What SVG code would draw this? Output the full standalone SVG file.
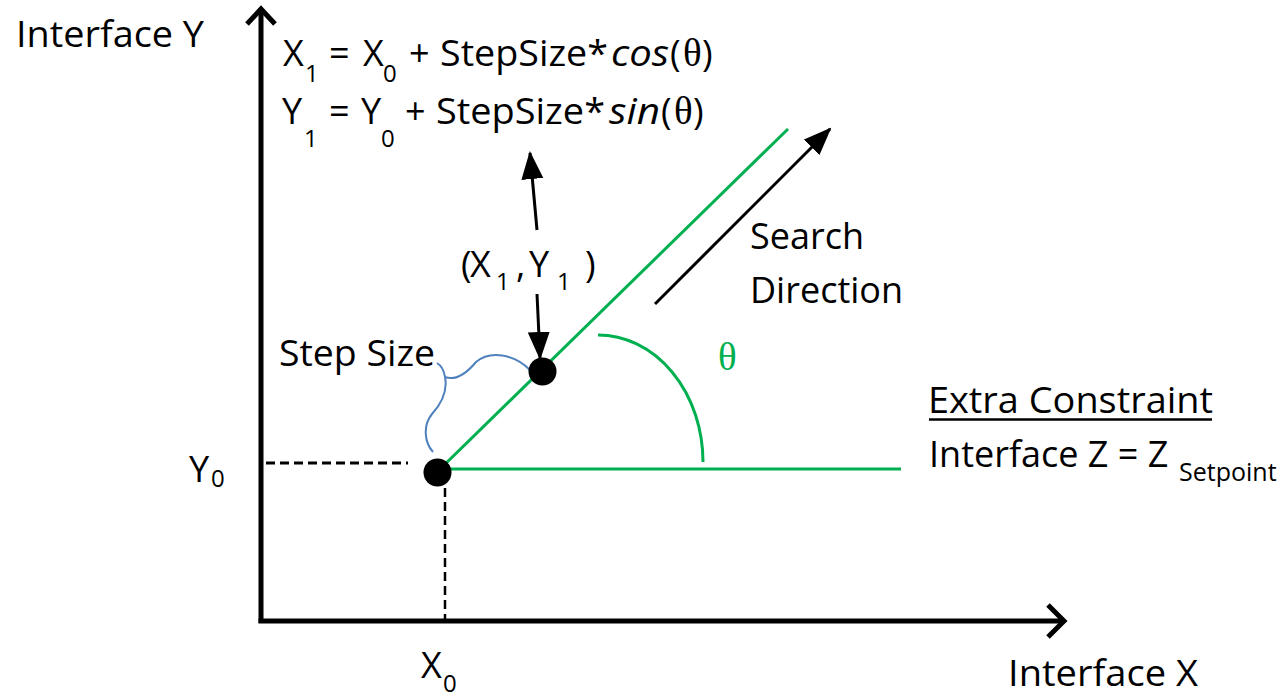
<svg xmlns="http://www.w3.org/2000/svg" width="1281" height="697" viewBox="0 0 1281 697">
<style>
.t{font-family:"Open Sans","Liberation Sans",sans-serif;font-size:36px;fill:#000}
.s{font-size:24px}
.g{font-family:"Liberation Serif","DejaVu Serif",serif;font-size:39px}
.axis{stroke:#000;stroke-width:5;fill:none}
.dash{stroke:#000;stroke-width:3;stroke-dasharray:9 5;fill:none}
.green{stroke:#00b050;stroke-width:3;fill:none}
.blk{stroke:#000;stroke-width:3;fill:none}
.dot{fill:#000}
</style>
<defs>
<marker id="ah" markerUnits="userSpaceOnUse" markerWidth="28" markerHeight="24" viewBox="0 0 28 24" refX="26" refY="12" orient="auto">
<path d="M0,1 L28,12 L0,23 Z" fill="#000"/>
</marker>
</defs>
<rect width="1281" height="697" fill="#fff"/>

<g id="axes">
<line class="axis" x1="261" y1="10" x2="261" y2="623"/>
<line class="axis" x1="258.5" y1="621" x2="1063" y2="621"/>
<polyline class="axis" points="247,24 261,9 275,24"/>
<polyline class="axis" points="1048,605 1064,621 1048,637"/>
<text class="t" x="16" y="47" textLength="188" lengthAdjust="spacingAndGlyphs">Interface Y</text>
<text class="t" x="1008" y="686" textLength="190" lengthAdjust="spacingAndGlyphs">Interface X</text>
</g>

<g id="guides">
<line class="dash" x1="266" y1="463" x2="408" y2="463"/>
<line class="dash" x1="445" y1="488" x2="445" y2="619" style="stroke-width:2.5"/>
<text class="t" x="189" y="482">Y<tspan class="s" x="211" y="487">0</tspan></text>
<text class="t" x="421" y="678">X<tspan class="s" x="443" y="692">0</tspan></text>
</g>

<g id="search-line">
<line class="green" x1="437" y1="472" x2="788" y2="129"/>
<line class="green" x1="437" y1="469" x2="901" y2="469"/>
<path class="green" d="M598,335 A105,127 0 0 1 703,462"/>
<text class="t g" x="718" y="370" style="fill:#00b050">θ</text>
</g>

<g id="step-size">
<path d="M437,363 C442,366 444,371 445,377 C456,381 466,374 476,362 C490,350 514,354 530,370 M445,377 C448,392 441,404 432,414 C423,425 424,442 433,452" fill="none" stroke="#4f81bd" stroke-width="2"/>
<text class="t" x="279" y="366" textLength="156" lengthAdjust="spacingAndGlyphs">Step Size</text>
</g>

<g id="point0">
<circle class="dot" cx="437.5" cy="472.5" r="14"/>
</g>

<g id="point1">
<circle class="dot" cx="542.5" cy="371.5" r="14"/>
<text class="t" x="461" y="277">(<tspan x="470">X</tspan><tspan class="s" x="496" y="290">1</tspan><tspan x="516" y="277">,</tspan><tspan x="529">Y</tspan><tspan class="s" x="557" y="290">1</tspan><tspan x="585" y="277">)</tspan></text>
</g>

<g id="formula">
<text class="t" x="283" y="66">X<tspan class="s" x="305" y="82">1</tspan><tspan x="329" y="66">=</tspan><tspan x="363">X</tspan><tspan class="s" x="383" y="82">0</tspan><tspan x="409" y="66">+</tspan><tspan x="440" textLength="168" lengthAdjust="spacingAndGlyphs">StepSize*</tspan><tspan x="611" font-style="italic" textLength="58" lengthAdjust="spacingAndGlyphs">cos</tspan><tspan x="670">(</tspan><tspan class="g" x="683">θ</tspan><tspan x="702">)</tspan></text>
<text class="t" x="282" y="124">Y<tspan class="s" x="304" y="147">1</tspan><tspan x="329" y="124">=</tspan><tspan x="361">Y</tspan><tspan class="s" x="381" y="147">0</tspan><tspan x="405" y="124">+</tspan><tspan x="436" textLength="169" lengthAdjust="spacingAndGlyphs">StepSize*</tspan><tspan x="609" font-style="italic" textLength="51" lengthAdjust="spacingAndGlyphs">sin</tspan><tspan x="661">(</tspan><tspan class="g" x="674">θ</tspan><tspan x="693">)</tspan></text>
</g>

<g id="search-direction">
<text class="t" x="750" y="249">Search</text>
<text class="t" x="750" y="303">Direction</text>
</g>

<g id="constraint">
<text class="t" x="928" y="413" textLength="285" lengthAdjust="spacingAndGlyphs">Extra Constraint</text>
<line x1="929" y1="419.5" x2="1212" y2="419.5" stroke="#000" stroke-width="2.5"/>
<text class="t" x="929" y="467">Interface Z = Z<tspan x="1179" y="481" style="font-size:25px">Setpoint</tspan></text>
</g>

<g id="connectors">
<line class="blk" x1="537" y1="230" x2="530" y2="153" marker-end="url(#ah)"/>
<line class="blk" x1="537" y1="294" x2="540" y2="358" marker-end="url(#ah)"/>
<line class="blk" x1="655" y1="304" x2="830" y2="129" marker-end="url(#ah)"/>
</g>
</svg>
